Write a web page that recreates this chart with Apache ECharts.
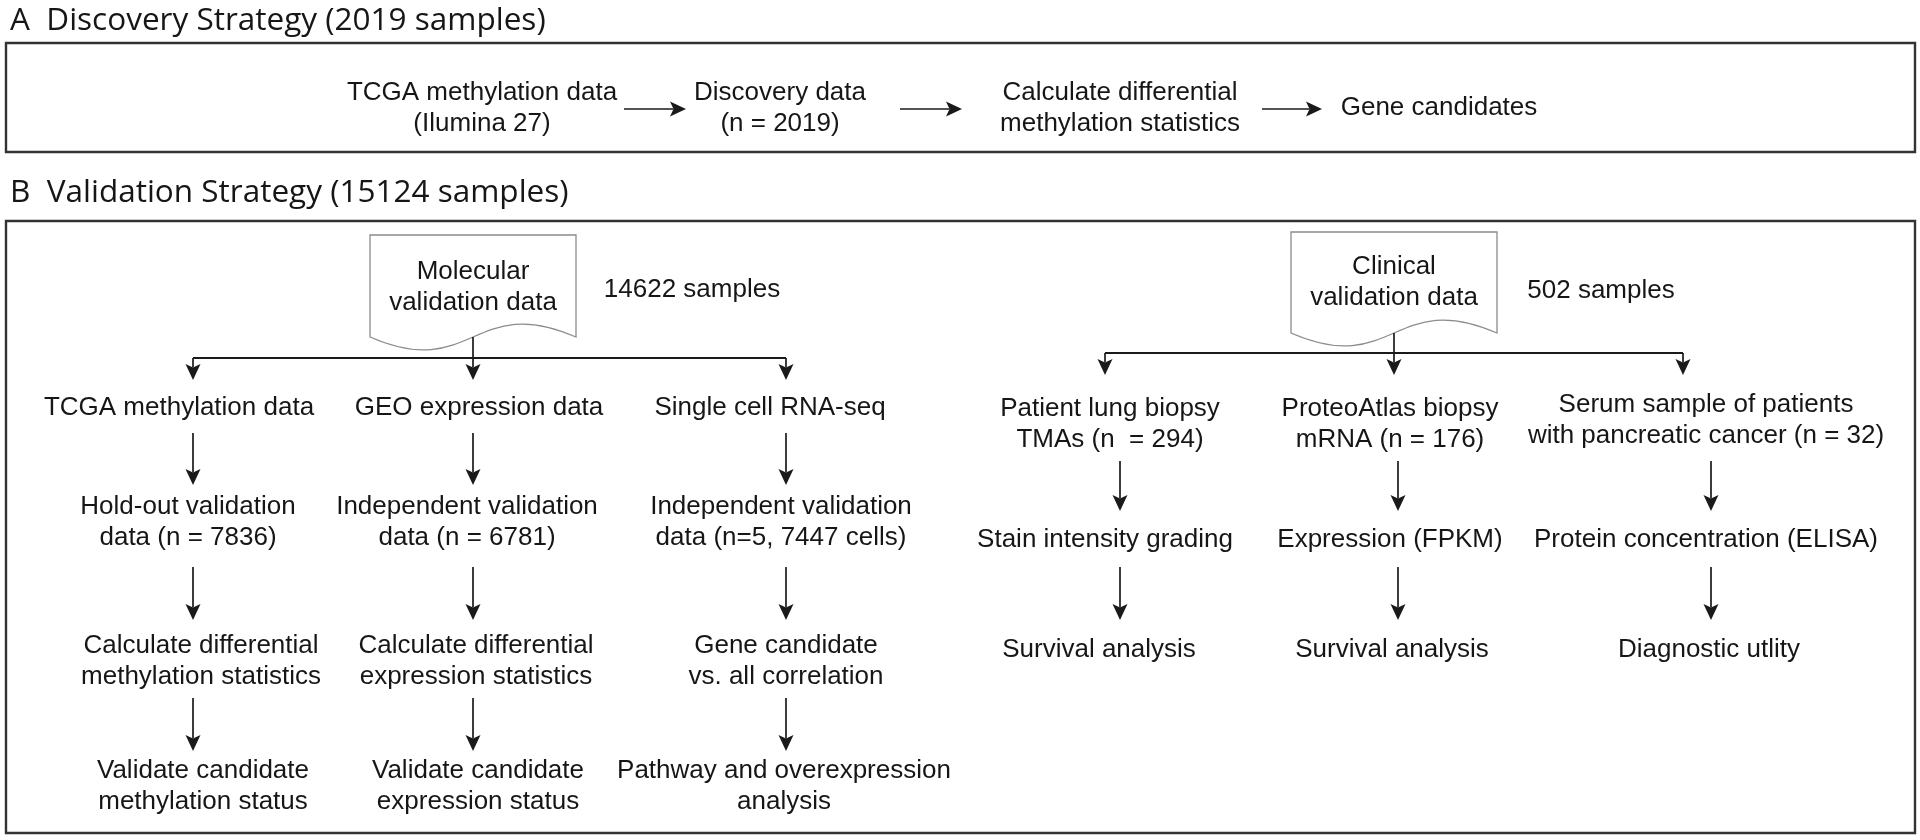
<!DOCTYPE html>
<html>
<head>
<meta charset="utf-8">
<script src="https://cdn.jsdelivr.net/npm/echarts@6/dist/echarts.min.js"></script>
<style>
html,body{margin:0;padding:0;background:#fff;}
#chart{width:1920px;height:840px;}
</style>
</head>
<body>
<div id="chart"></div>
<script>
// ---------------- content (text of the diagram) ----------------
const sectionTitles = [
  'A  Discovery Strategy (2019 samples)',
  'B  Validation Strategy (15124 samples)'
];
const discoverySteps = [
  'TCGA methylation data\n(Ilumina 27)',
  'Discovery data\n(n = 2019)',
  'Calculate differential\nmethylation statistics',
  'Gene candidates'
];
const molecularSource = 'Molecular\nvalidation data';
const molecularCount = '14622 samples';
const molecularSteps = [
  ['TCGA methylation data', 'Hold-out validation\ndata (n = 7836)', 'Calculate differential\nmethylation statistics', 'Validate candidate\nmethylation status'],
  ['GEO expression data', 'Independent validation\ndata (n = 6781)', 'Calculate differential\nexpression statistics', 'Validate candidate\nexpression status'],
  ['Single cell RNA-seq', 'Independent validation\ndata (n=5, 7447 cells)', 'Gene candidate\nvs. all correlation', 'Pathway and overexpression\nanalysis']
];
const clinicalSource = 'Clinical\nvalidation data';
const clinicalCount = '502 samples';
const clinicalSteps = [
  ['Patient lung biopsy\nTMAs (n  = 294)', 'Stain intensity grading', 'Survival analysis'],
  ['ProteoAtlas biopsy\nmRNA (n = 176)', 'Expression (FPKM)', 'Survival analysis'],
  ['Serum sample of patients\nwith pancreatic cancer (n = 32)', 'Protein concentration (ELISA)', 'Diagnostic utlity']
];

// ---------------- layout (diagram coordinates) ----------------
const titlePos = [[10, 21], [10, 193]];
const frames = [[6, 43, 1915, 152], [6, 221, 1915, 833]];
const discoveryX = [482, 780, 1120, 1439];
const discoveryY = 108;
const discoveryArrowX = [[624, 686], [900, 962], [1262, 1322]];
const discoveryArrowY = 109;

const molDoc = [370, 235, 576, 337];
const molSourceText = [473, 287];
const molCountText = [692, 290];
const molBranchY = 358;
const molArrowTipY = 380;
const molArrowX = [193, 473, 786];
const molTextX = [[179, 188, 201, 203], [479, 467, 476, 478], [770, 781, 786, 784]];
const molRowY = [408, 522, 661, 786];
const molStepArrows = [[433, 485], [567, 620], [698, 751]];

const cliDoc = [1291, 232, 1497, 333];
const cliSourceText = [1394, 282];
const cliCountText = [1601, 291];
const cliBranchY = 353;
const cliArrowTipY = 375;
const cliBranchX = [1105, 1394, 1683];
const cliArrowX = [1120, 1398, 1711];
const cliTextX = [[1110, 1105, 1099], [1390, 1390, 1392], [1706, 1706, 1709]];
const cliRowY = [[424, 540, 650], [424, 540, 650], [420, 540, 650]];
const cliStepArrows = [[461, 511], [567, 620]];

// ---------------- build series data ----------------
const textNodes = [];
function addText(x, y, txt) { textNodes.push({ value: [x, y], name: txt }); }
discoverySteps.forEach((t, i) => addText(discoveryX[i], discoveryY, t));
addText(molSourceText[0], molSourceText[1], molecularSource);
addText(molCountText[0], molCountText[1], molecularCount);
molecularSteps.forEach((col, c) => col.forEach((t, r) => addText(molTextX[c][r], molRowY[r], t)));
addText(cliSourceText[0], cliSourceText[1], clinicalSource);
addText(cliCountText[0], cliCountText[1], clinicalCount);
clinicalSteps.forEach((col, c) => col.forEach((t, r) => addText(cliTextX[c][r], cliRowY[c][r], t)));

const titleNodes = sectionTitles.map((t, i) => ({ value: titlePos[i], name: t }));

// arrows: [x1, y1, x2, y2]
const arrows = [];
discoveryArrowX.forEach(a => arrows.push([a[0], discoveryArrowY, a[1], discoveryArrowY]));
arrows.push([molArrowX[1], molDoc[3], molArrowX[1], molArrowTipY]);
arrows.push([molArrowX[0], molBranchY, molArrowX[0], molArrowTipY]);
arrows.push([molArrowX[2], molBranchY, molArrowX[2], molArrowTipY]);
molArrowX.forEach(x => molStepArrows.forEach(s => arrows.push([x, s[0], x, s[1]])));
arrows.push([cliBranchX[1], cliDoc[3], cliBranchX[1], cliArrowTipY]);
arrows.push([cliBranchX[0], cliBranchY, cliBranchX[0], cliArrowTipY]);
arrows.push([cliBranchX[2], cliBranchY, cliBranchX[2], cliArrowTipY]);
cliArrowX.forEach(x => cliStepArrows.forEach(s => arrows.push([x, s[0], x, s[1]])));

// plain connector lines
const branches = [
  [molArrowX[0], molBranchY, molArrowX[2], molBranchY],
  [cliBranchX[0], cliBranchY, cliBranchX[2], cliBranchY]
];

const chart = echarts.init(document.getElementById('chart'), null, { renderer: 'canvas' });

function textSeries(name, nodes, family, size, lh, align) {
  return {
    type: 'custom',
    name: name,
    silent: true,
    z: 5,
    data: nodes,
    renderItem: function (params, api) {
      const p = api.coord([api.value(0), api.value(1)]);
      return {
        type: 'text',
        x: p[0],
        y: p[1],
        style: {
          text: nodes[params.dataIndex].name,
          fill: '#161616',
          fontFamily: family,
          fontSize: size,
          fontWeight: 'normal',
          lineHeight: lh,
          align: align,
          verticalAlign: 'middle'
        }
      };
    }
  };
}

chart.setOption({
  backgroundColor: '#ffffff',
  animation: false,
  grid: { left: 0, right: 0, top: 0, bottom: 0 },
  xAxis: { type: 'value', min: 0, max: 1920, show: false },
  yAxis: { type: 'value', min: 0, max: 840, inverse: true, show: false },
  series: [
    {
      type: 'custom',
      name: 'frames',
      silent: true,
      z: 1,
      data: frames,
      renderItem: function (params, api) {
        const p1 = api.coord([api.value(0), api.value(1)]);
        const p2 = api.coord([api.value(2), api.value(3)]);
        return {
          type: 'rect',
          shape: { x: p1[0], y: p1[1], width: p2[0] - p1[0], height: p2[1] - p1[1] },
          style: { fill: 'none', stroke: '#333333', lineWidth: 2.4 }
        };
      }
    },
    {
      type: 'custom',
      name: 'documents',
      silent: true,
      z: 2,
      data: [molDoc, cliDoc],
      renderItem: function (params, api) {
        const tl = api.coord([api.value(0), api.value(1)]);
        const br = api.coord([api.value(2), api.value(3)]);
        const L = tl[0], T = tl[1], R = br[0], B = br[1];
        const mid = (L + R) / 2, k = 45;
        const d = 'M' + L + ' ' + T + ' L' + R + ' ' + T + ' L' + R + ' ' + B +
          ' C' + mid + ' ' + (B - k) + ' ' + mid + ' ' + (B + k) + ' ' + L + ' ' + B + ' Z';
        return {
          type: 'path',
          shape: { pathData: d },
          style: { fill: '#ffffff', stroke: '#8c8c8c', lineWidth: 1.3 }
        };
      }
    },
    {
      type: 'custom',
      name: 'branches',
      silent: true,
      z: 3,
      data: branches,
      renderItem: function (params, api) {
        const a = api.coord([api.value(0), api.value(1)]);
        const b = api.coord([api.value(2), api.value(3)]);
        return {
          type: 'line',
          shape: { x1: a[0], y1: a[1], x2: b[0], y2: b[1] },
          style: { stroke: '#1a1a1a', lineWidth: 2 }
        };
      }
    },
    {
      type: 'custom',
      name: 'arrows',
      silent: true,
      z: 4,
      data: arrows,
      renderItem: function (params, api) {
        const a = api.coord([api.value(0), api.value(1)]);
        const b = api.coord([api.value(2), api.value(3)]);
        const dx = b[0] - a[0], dy = b[1] - a[1];
        const len = Math.sqrt(dx * dx + dy * dy);
        const ux = dx / len, uy = dy / len;
        const px = -uy, py = ux;
        const headLen = 16, halfW = 7.5, notch = 3.5;
        const baseX = b[0] - ux * headLen, baseY = b[1] - uy * headLen;
        const nX = b[0] - ux * (headLen - notch), nY = b[1] - uy * (headLen - notch);
        return {
          type: 'group',
          children: [
            {
              type: 'line',
              shape: { x1: a[0], y1: a[1], x2: nX, y2: nY },
              style: { stroke: '#1a1a1a', lineWidth: 1.7 }
            },
            {
              type: 'polygon',
              shape: { points: [[b[0], b[1]], [baseX + px * halfW, baseY + py * halfW], [nX, nY], [baseX - px * halfW, baseY - py * halfW]] },
              style: { fill: '#1a1a1a', stroke: 'none' }
            }
          ]
        };
      }
    },
    textSeries('texts', textNodes, 'Liberation Sans', 26, 31, 'center'),
    textSeries('titles', titleNodes, 'Open Sans', 31.5, 36, 'left')
  ]
});
</script>
</body>
</html>
